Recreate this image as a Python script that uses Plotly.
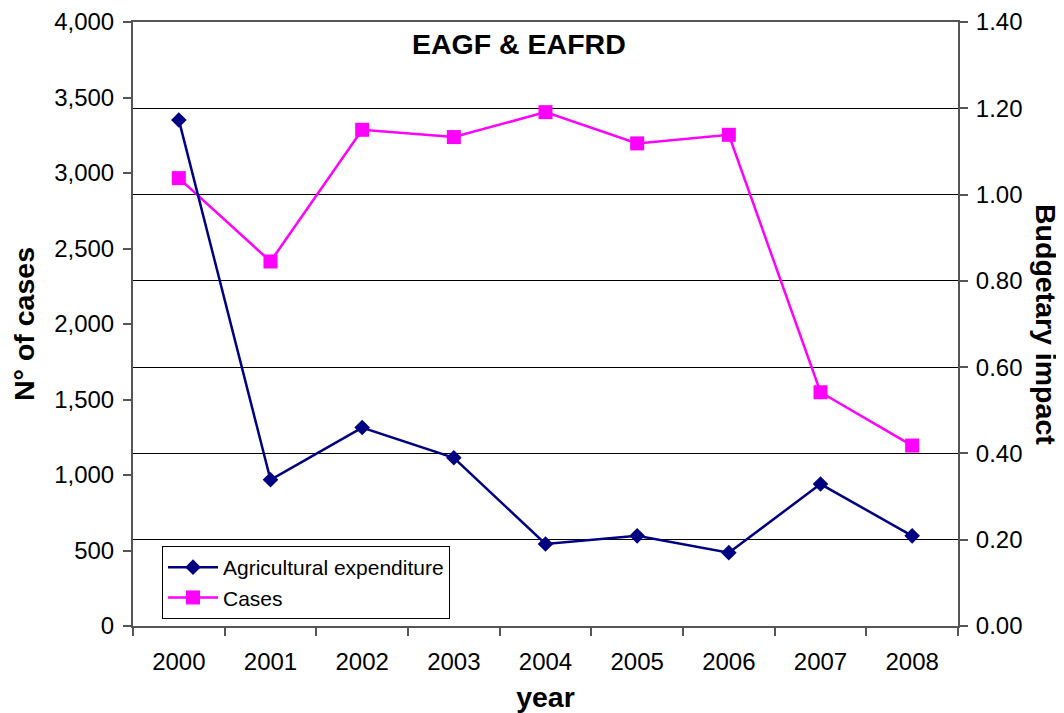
import plotly.graph_objects as go

years = ["2000", "2001", "2002", "2003", "2004", "2005", "2006", "2007", "2008"]
cases = [2966, 2414, 3286, 3238, 3403, 3196, 3253, 1548, 1195]
agri_expenditure = [1.173, 0.339, 0.46, 0.39, 0.19, 0.209, 0.17, 0.329, 0.209]

FONT = "Liberation Sans, Arial, sans-serif"
AXC = "#555555"
W, H = 1064, 713
OFF = 8  # page body margin offset
# target plot area in page pixels
PX0, PX1, PY0, PY1 = 133, 958, 22, 626
L = PX0 - OFF
T = PY0 - OFF
R = W - (PX1 - OFF)
B = H - (PY1 - OFF)
pw = PX1 - PX0
ph = PY1 - PY0


def px(xp):
    return (xp - PX0) / pw


def py(yp):
    return (PY1 - yp) / ph


fig = go.Figure()
fig.add_trace(go.Scatter(
    x=years, y=agri_expenditure, name="Agricultural expenditure", yaxis="y2",
    mode="lines+markers",
    line=dict(color="#000080", width=2.5),
    marker=dict(symbol="diamond", size=12, color="#000080"),
))
fig.add_trace(go.Scatter(
    x=years, y=cases, name="Cases", yaxis="y",
    mode="lines+markers",
    line=dict(color="#FF00FF", width=2.5),
    marker=dict(symbol="square", size=14, color="#FF00FF"),
))

fig.update_layout(
    width=W, height=H,
    margin=dict(l=L, r=R, t=T, b=B),
    paper_bgcolor="white", plot_bgcolor="white",
    font=dict(family=FONT, size=24, color="black"),
    showlegend=True,
    legend=dict(
        x=px(162), y=py(546), xanchor="left", yanchor="top",
        bgcolor="white", bordercolor="black", borderwidth=1,
        font=dict(size=21, family=FONT), tracegroupgap=0, itemwidth=50,
    ),
    xaxis=dict(
        type="category", range=[-0.5, 8.5], automargin=False,
        showline=True, linecolor=AXC, linewidth=2, mirror=True,
        ticks="outside", tickson="boundaries", ticklen=8, tickcolor=AXC, tickwidth=1.5,
        showgrid=False, ticklabelstandoff=13,
        title=dict(text="<b>year</b>", font=dict(size=28.5), standoff=13),
    ),
    yaxis=dict(
        range=[0, 4000], dtick=500, tickformat=",", automargin=False,
        showline=True, linecolor=AXC, linewidth=2,
        ticks="outside", ticklen=8, tickcolor=AXC, tickwidth=1.5,
        showgrid=False, zeroline=False, ticklabelstandoff=4,
        title=dict(text="<b>N° of cases</b>", font=dict(size=28.5), standoff=15),
    ),
    yaxis2=dict(
        range=[0, 1.4], dtick=0.2, tickformat=".2f", automargin=False,
        overlaying="y", side="right",
        showline=True, linecolor=AXC, linewidth=2,
        ticks="outside", ticklen=8, tickcolor=AXC, tickwidth=1.5,
        showgrid=True, gridcolor="black", gridwidth=1, zeroline=False,
        ticklabelstandoff=3,
    ),
    annotations=[
        dict(text="<b>EAGF & EAFRD</b>", x=px(519), y=py(44),
             xref="paper", yref="paper", xanchor="center", yanchor="middle",
             showarrow=False, font=dict(size=28.5)),
        dict(text="<b>Budgetary impact</b>", textangle=90, showarrow=False,
             xref="paper", yref="paper", x=px(1046), y=py(324),
             xanchor="center", yanchor="middle", font=dict(size=28.5)),
    ],
)

fig.write_html("out.html")
